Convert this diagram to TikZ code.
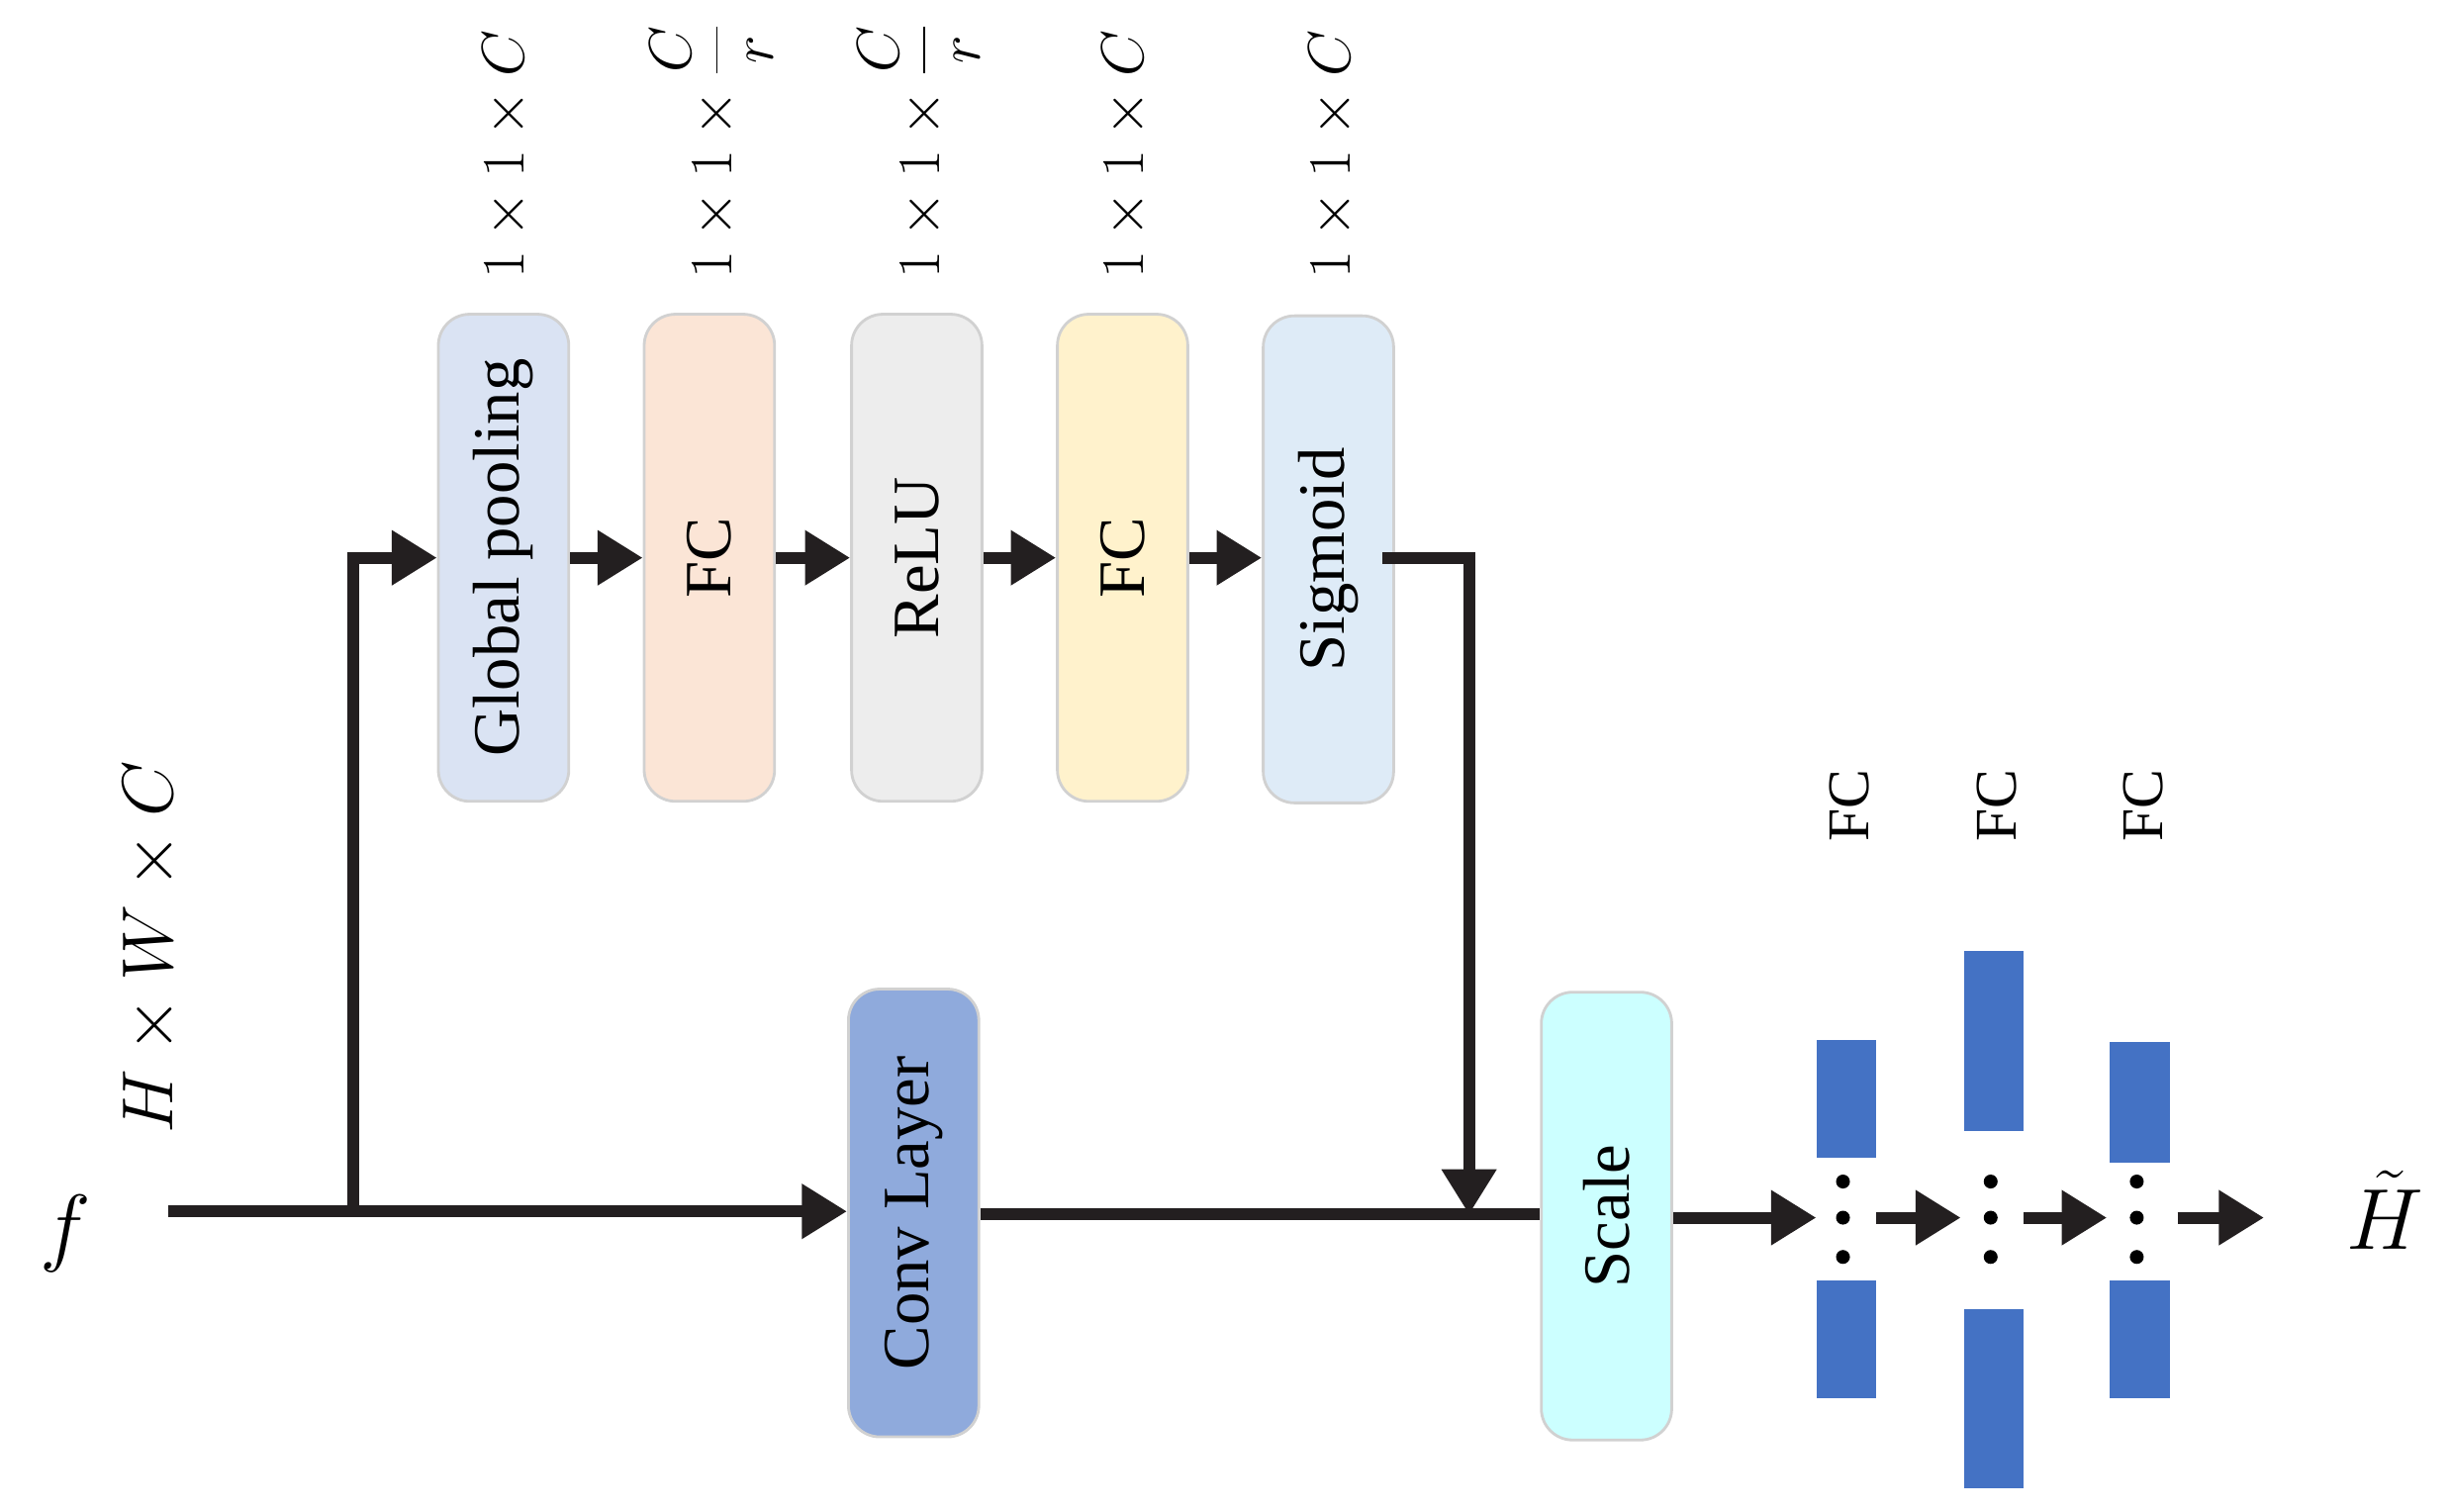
\documentclass[tikz,border=0pt]{standalone}
\usepackage{fontspec}
\setmainfont{Liberation Serif}
\usetikzlibrary{arrows.meta}
\definecolor{cgp}{HTML}{DAE3F3}
\definecolor{cfc}{HTML}{FBE5D6}
\definecolor{crelu}{HTML}{EDEDED}
\definecolor{cfcb}{HTML}{FFF2CC}
\definecolor{csig}{HTML}{DEEBF7}
\definecolor{cconv}{HTML}{8FAADC}
\definecolor{cscale}{HTML}{CCFFFF}
\definecolor{cbar}{HTML}{4472C4}
\definecolor{cline}{HTML}{231F20}
\begin{document}
\begin{tikzpicture}[x=0.01588cm,y=-0.01588cm,
  blk/.style={draw=black!18,line width=0.8pt,rounded corners=9pt,rotate=90,minimum height=83*0.01588cm,inner sep=0pt,font=\fontsize{19}{22}\selectfont},
  dim/.style={rotate=90,anchor=west,font=\fontsize{18}{22}\selectfont,inner sep=0pt},
  ar/.style={line width=3.4pt,color=cline,-{Triangle[length=13pt,width=15pt]}},
  ln/.style={line width=3.4pt,color=cline},
  bar/.style={fill=cbar,draw=none},
  dot/.style={circle,fill=black,inner sep=0pt,minimum size=4pt}]
\useasboundingbox (0,0) rectangle (1560,962);
% top boxes
\node[blk,fill=cgp,minimum width=310*0.01588cm] (gp) at (320.5,355) {Global pooling};
\node[blk,fill=cfc,minimum width=310*0.01588cm] (fc1) at (451.5,355) {FC};
\node[blk,fill=crelu,minimum width=310*0.01588cm] (relu) at (583.5,355) {ReLU};
\node[blk,fill=cfcb,minimum width=310*0.01588cm] (fc2) at (714.5,355) {FC};
\node[blk,fill=csig,minimum width=310*0.01588cm] (sig) at (845.5,356) {Sigmoid};
% dims
\node[dim] (d1) at (322,178) {$1\times1\times C$};
\node[dim] (d2) at (453,178) {$1\times1\times\displaystyle\frac{C}{r}$};
\node[dim] (d3) at (585,178) {$1\times1\times\displaystyle\frac{C}{r}$};
\node[dim] (d4) at (716,178) {$1\times1\times C$};
\node[dim] (d5) at (848,178) {$1\times1\times C$};
% bottom boxes
\node[blk,fill=cconv,minimum width=285*0.01588cm] (conv) at (581.5,772) {Conv Layer};
\node[blk,fill=cscale,minimum width=285*0.01588cm] (scale) at (1022.5,774) {Scale};
% input
\node[font=\fontsize{36}{40}\selectfont] (f) at (42,785) {$f$};
\node[dim,font=\fontsize{20}{24}\selectfont] (hwc) at (96,722) {$H\times W\times C$};
\coordinate (in) at (107,771);
\coordinate (br) at (225,771);
\coordinate (brt) at (225,355);
\draw[ar] (in) -- (conv.north |- in);
\draw[ar] (br) -- (brt) -- (gp.north |- brt);
\draw[ar] (gp.south |- 0,355) -- (fc1.north |- 0,355);
\draw[ar] (fc1.south |- 0,355) -- (relu.north |- 0,355);
\draw[ar] (relu.south |- 0,355) -- (fc2.north |- 0,355);
\draw[ar] (fc2.south |- 0,355) -- (sig.north |- 0,355);
\coordinate (so) at (880,355);
\coordinate (sc) at (935,355);
\coordinate (jn) at (935,773);
\draw[ar] (so) -- (sc) -- (jn);
\draw[ln] (conv.south |- jn) -- (scale.north |- jn);
% bars
\foreach \n/\x/\ta/\tb/\ba/\bb in {1/1175/662/737/815/890,2/1269/605/720/833/947,3/1362/663/740/815/890}{
  \fill[bar] (\x-19,\ta) rectangle (\x+19,\tb);
  \fill[bar] (\x-19,\ba) rectangle (\x+19,\bb);
  \node[dot] (a\n) at (\x-2,752) {};
  \node[dot] (b\n) at (\x-2,775) {};
  \node[dot] (c\n) at (\x-2,800) {};
  \node[rotate=90,anchor=west,inner sep=0pt,font=\fontsize{17}{20}\selectfont] (fcl\n) at (\x+2,536) {FC};
}
\node[font=\fontsize{32}{36}\selectfont] (ht) at (1518,770) {$\tilde{H}$};
\coordinate (s1) at (1156,775);
\coordinate (p1) at (1194,775);
\coordinate (q1) at (1248,775);
\coordinate (p2) at (1288,775);
\coordinate (q2) at (1341,775);
\coordinate (p3) at (1386,775);
\coordinate (q3) at (1441,775);
\draw[ar] (scale.south |- s1) -- (s1);
\draw[ar] (p1) -- (q1);
\draw[ar] (p2) -- (q2);
\draw[ar] (p3) -- (q3);
\end{tikzpicture}
\end{document}
